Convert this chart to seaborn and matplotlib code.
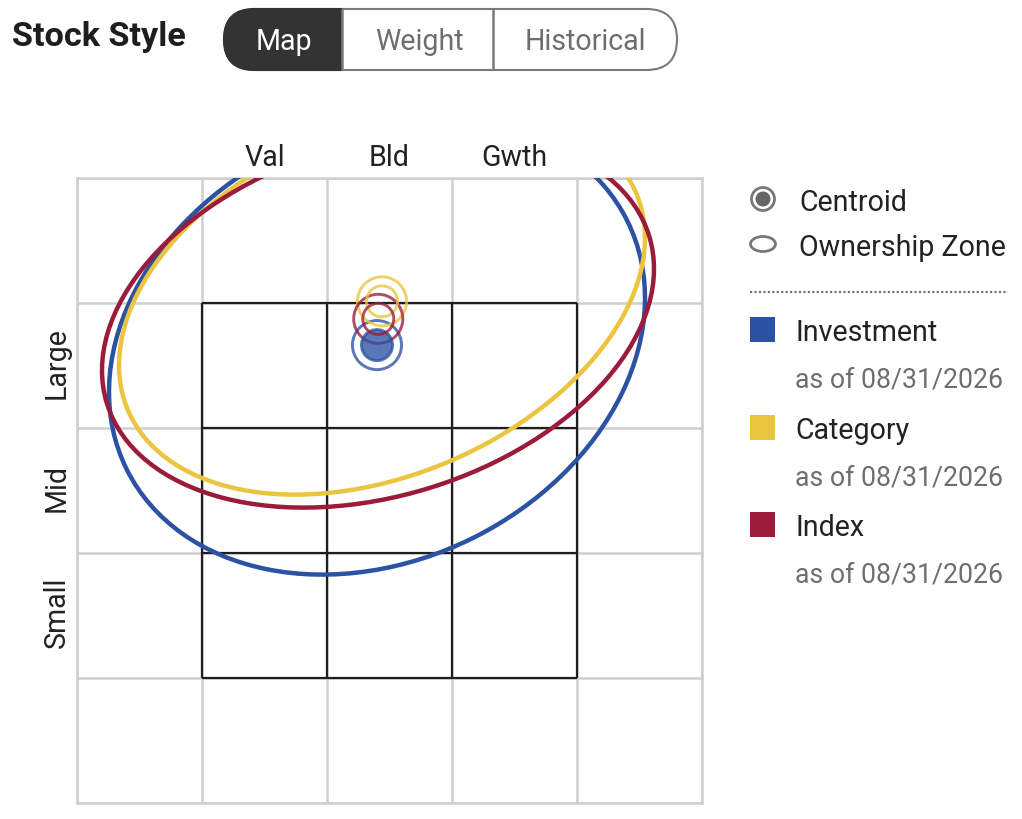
import numpy as np
import pandas as pd
import seaborn as sns
import matplotlib
matplotlib.use("Agg")
import matplotlib.pyplot as plt
from matplotlib.patches import Ellipse, FancyBboxPatch, Rectangle, Circle
from matplotlib.transforms import ScaledTranslation

# ---- data (grid units: each style box = 1) ----
series = ["Investment", "Category", "Index"]
colors = ["#2B52A3", "#EBC53F", "#9A1B3A"]
centroid_x = [2.40, 2.44, 2.41]
centroid_y = [3.66, 4.01, 3.87]
zone_cx = [2.40, 2.44, 2.408]
zone_cy = [3.66, 4.008, 3.864]
zone_xext = [2.144, 2.104, 2.208]
zone_yext = [1.836, 1.544, 1.504]
zone_rho = [0.205, 0.33, 0.27]
col_labels = ["Val", "Bld", "Gwth"]
row_labels = ["Small", "Mid", "Large"]
tabs = ["Map", "Weight", "Historical"]
as_of = "as of 08/31/2026"

sns.set_theme(style="white")
plt.rcParams["font.family"] = ["Roboto", "DejaVu Sans"]
FS = 20.6

W, H = 1022, 820
fig = plt.figure(figsize=(W / 100, H / 100), dpi=100, facecolor="white")

ov = fig.add_axes([0, 0, 1, 1], zorder=0)
ov.set_xlim(0, W); ov.set_ylim(H, 0); ov.axis("off")

ax = fig.add_axes([77 / W, 1 - 803.6 / H, 625 / W, 625 / H], zorder=1)
ax.set_facecolor("none")
ax.set_xlim(0, 5); ax.set_ylim(0, 5)
major = np.arange(6)
ax.set_xticks(major); ax.set_yticks(major)
ax.set_xticklabels([]); ax.set_yticklabels([])
ax.grid(True, color="#CFCFCF", lw=1.8)
ax.set_axisbelow(True)
for s in ax.spines.values():
    s.set_color("#CFCFCF"); s.set_linewidth(1.8)
ax.set_xticks([1.5, 2.5, 3.5], minor=True)
ax.set_yticks([1.5, 2.5, 3.5], minor=True)
ax.set_xticklabels(col_labels, minor=True, fontsize=FS, color="#222222")
ax.set_yticklabels(row_labels, minor=True, fontsize=FS, color="#222222",
                   rotation=90, va="center")
ax.xaxis.tick_top()
ax.tick_params(which="both", length=0)
ax.tick_params(axis="x", which="minor", pad=5)
ax.tick_params(axis="y", which="minor", pad=4.5)
for lab in ax.yaxis.get_minorticklabels():
    lab.set_transform(lab.get_transform() + ScaledTranslation(0, 3.5 / 100, fig.dpi_scale_trans))

inner = np.arange(1, 5)
ax.vlines(inner, 1, 4, color="#1E1E1E", lw=1.6, zorder=2)
ax.hlines(inner, 1, 4, color="#1E1E1E", lw=1.6, zorder=2)

for c, cx, cy, xe, ye, r in zip(colors, zone_cx, zone_cy, zone_xext, zone_yext, zone_rho):
    cov = np.array([[xe**2, r * xe * ye], [r * xe * ye, ye**2]])
    vals, vecs = np.linalg.eigh(cov)
    ang = np.degrees(np.arctan2(vecs[1, 1], vecs[0, 1]))
    ax.add_patch(Ellipse((cx, cy), 2 * np.sqrt(vals[1]), 2 * np.sqrt(vals[0]), angle=ang,
                         fill=False, ec=c, lw=3.2, zorder=3))

df = pd.DataFrame({"x": centroid_x, "y": centroid_y, "series": series})
edge = [matplotlib.colors.to_rgba(k, 0.78) for k in colors]
sns.scatterplot(data=df, x="x", y="y", s=1250, legend=False, ax=ax, zorder=4)
coll = ax.collections[-1]
coll.set_facecolor("none"); coll.set_edgecolor(edge); coll.set_linewidth(2.1)
sns.scatterplot(data=df, x="x", y="y", s=500, legend=False, ax=ax, zorder=5)
coll = ax.collections[-1]
coll.set_facecolor([matplotlib.colors.to_rgba(colors[0], 0.78), (0, 0, 0, 0), (0, 0, 0, 0)])
coll.set_edgecolor(edge); coll.set_linewidth(2.1)
ax.set_xlabel(""); ax.set_ylabel("")

ov.text(12, 37, "Stock Style", fontsize=24.7, fontweight="bold", color="#1E1E1E", va="center", ha="left")
pill = FancyBboxPatch((224, 10), 453, 61, boxstyle="round,pad=0,rounding_size=30.5",
                      fc="white", ec="#7A7A7A", lw=1.5)
ov.add_patch(pill)
dark = FancyBboxPatch((224, 10), 453, 61, boxstyle="round,pad=0,rounding_size=30.5",
                      fc="#333333", ec="#333333", lw=1.5)
ov.add_patch(dark)
dark.set_clip_path(Rectangle((220, 5), 122, 70, transform=ov.transData))
ov.vlines([342, 493], 10, 71, color="#7A7A7A", lw=1.8)
for label, x, col in zip(tabs, [284, 419, 585], ["white", "#6E6E6E", "#6E6E6E"]):
    ov.text(x, 42, label, fontsize=FS, color=col, ha="center", va="center")

ov.add_patch(Circle((763, 200), 11.5, fc="none", ec="#777777", lw=2))
ov.add_patch(Circle((763, 200), 7.5, fc="#666666", ec="none"))
ov.add_patch(Ellipse((763, 245), 25, 15, fc="none", ec="#777777", lw=2))
ov.text(799, 203, "Centroid", fontsize=FS, color="#222222", va="center")
ov.text(799, 248, "Ownership Zone", fontsize=FS, color="#222222", va="center")
ov.plot([750, 1008], [292.5, 292.5], color="#777777", lw=1.6, ls=(0, (1, 1)))
for name, c, y in zip(series, colors, [318, 416, 513]):
    ov.add_patch(Rectangle((750, y), 25, 25, fc=c, ec="none"))
    ov.text(795, y + 15, name, fontsize=FS, color="#222222", va="center")
    ov.text(795, y + 62, as_of, fontsize=19.2, color="#6E6E6E", va="center")

fig.savefig("out.png", dpi=100)
